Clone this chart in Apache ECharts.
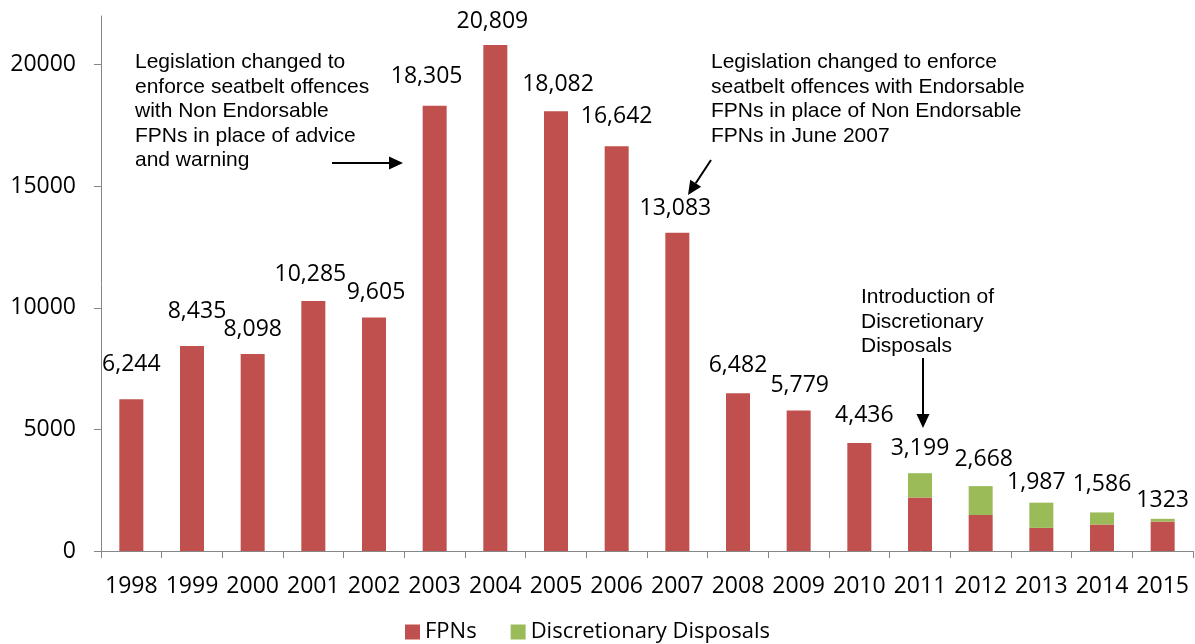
<!DOCTYPE html>
<html>
<head>
<meta charset="utf-8">
<script src="https://cdn.jsdelivr.net/npm/echarts@6/dist/echarts.min.js"></script>
<style>
html,body{margin:0;padding:0;background:#fff;}
#chart{width:1195px;height:644px;}
</style>
</head>
<body>
<div id="chart"></div>
<script>
const years = ['1998','1999','2000','2001','2002','2003','2004','2005','2006','2007','2008','2009','2010','2011','2012','2013','2014','2015'];
const fpns = [6244,8435,8098,10285,9605,18305,20809,18082,16642,13083,6482,5779,4436,2200,1480,950,1090,1210];
const discretionary = [0,0,0,0,0,0,0,0,0,0,0,0,0,999,1188,1037,496,113];
const totalLabels = ['6,244','8,435','8,098','10,285','9,605','18,305','20,809','18,082','16,642','13,083','6,482','5,779','4,436','3,199','2,668','1,987','1,586','1323'];
const yTicks = [0,5000,10000,15000,20000];

// label nudges (pixels) to mimic the hand-placed labels of the original
const labelNudge = [[0,-8],[5,-8],[0,2],[-3,0],[2,2],[-8,-3],[-3,3],[2,0],[0,-3],[-2,2],[0,-1],[1,1],[5,-1],[0,2],[3,0],[-5,6],[0,-1],[0,8]];

const RED = '#C0504D', GREEN = '#9BBB59', AXIS = '#868686';
const LABEL_FONT = 'Open Sans';

const labelBase = {show:true, position:'top', distance:15, color:'#000', fontFamily:LABEL_FONT, fontSize:23};

const fpnData = fpns.map((v,i)=>({
  value:v,
  label: discretionary[i] ? {show:false} : Object.assign({}, labelBase, {offset:labelNudge[i], formatter:()=>totalLabels[i]})
}));
const discData = discretionary.map((v,i)=>({
  value: v || null,
  label: v ? Object.assign({}, labelBase, {offset:labelNudge[i], formatter:()=>totalLabels[i]}) : {show:false}
}));

function arrow(x1,y1,x2,y2){
  const ang = Math.atan2(y2-y1, x2-x1);
  const L = 14, W = 6.5;
  const bx = x2 - L*Math.cos(ang), by = y2 - L*Math.sin(ang);
  const px = -Math.sin(ang), py = Math.cos(ang);
  return [
    {type:'line', shape:{x1:x1,y1:y1,x2:bx,y2:by}, style:{stroke:'#000', lineWidth:2}},
    {type:'polygon', shape:{points:[[x2,y2],[bx+px*W,by+py*W],[bx-px*W,by-py*W]]}, style:{fill:'#000'}}
  ];
}
const annoStyle = {fill:'#000', font:'21px "Liberation Sans", Arial, sans-serif', lineHeight:24.5, textVerticalAlign:'top'};

const chart = echarts.init(document.getElementById('chart'));
chart.setOption({
  animation:false,
  grid:{left:101, right:2, top:16, bottom:93, containLabel:false},
  legend:{
    data:['FPNs','Discretionary Disposals'],
    left:400, top:616, icon:'rect', itemWidth:15, itemHeight:15, itemGap:34,
    textStyle:{fontFamily:LABEL_FONT, fontSize:22, color:'#000'}
  },
  xAxis:{
    type:'category', data:years, boundaryGap:true,
    axisLine:{lineStyle:{color:AXIS, width:1}},
    axisTick:{show:true, length:7, lineStyle:{color:AXIS}, alignWithLabel:false},
    axisLabel:{color:'#000', fontFamily:LABEL_FONT, fontSize:23, margin:24, interval:0}
  },
  yAxis:{
    type:'value', min:0, max:22000, interval:5000,
    splitLine:{show:false},
    axisLine:{show:true, lineStyle:{color:AXIS, width:1}},
    axisTick:{show:true, length:7, lineStyle:{color:AXIS}, customValues:yTicks},
    axisLabel:{color:'#000', fontFamily:LABEL_FONT, fontSize:23, margin:25, customValues:yTicks, formatter:(v)=>String(v)}
  },
  series:[
    {name:'FPNs', type:'bar', stack:'t', barWidth:24, itemStyle:{color:RED}, data:fpnData},
    {name:'Discretionary Disposals', type:'bar', stack:'t', barWidth:24, itemStyle:{color:GREEN}, data:discData}
  ],
  graphic:[
    {type:'text', left:135, top:50, style:Object.assign({}, annoStyle, {text:'Legislation changed to\nenforce seatbelt offences\nwith Non Endorsable\nFPNs in place of advice\nand warning'})},
    {type:'text', left:711, top:50, style:Object.assign({}, annoStyle, {text:'Legislation changed to enforce\nseatbelt offences with Endorsable\nFPNs in place of Non Endorsable\nFPNs in June 2007'})},
    {type:'text', left:861, top:285, style:Object.assign({}, annoStyle, {text:'Introduction of\nDiscretionary\nDisposals'})},
    ...arrow(332,163,403,163),
    ...arrow(711,160,688,195),
    ...arrow(923,358,923,428)
  ]
});
</script>
</body>
</html>
